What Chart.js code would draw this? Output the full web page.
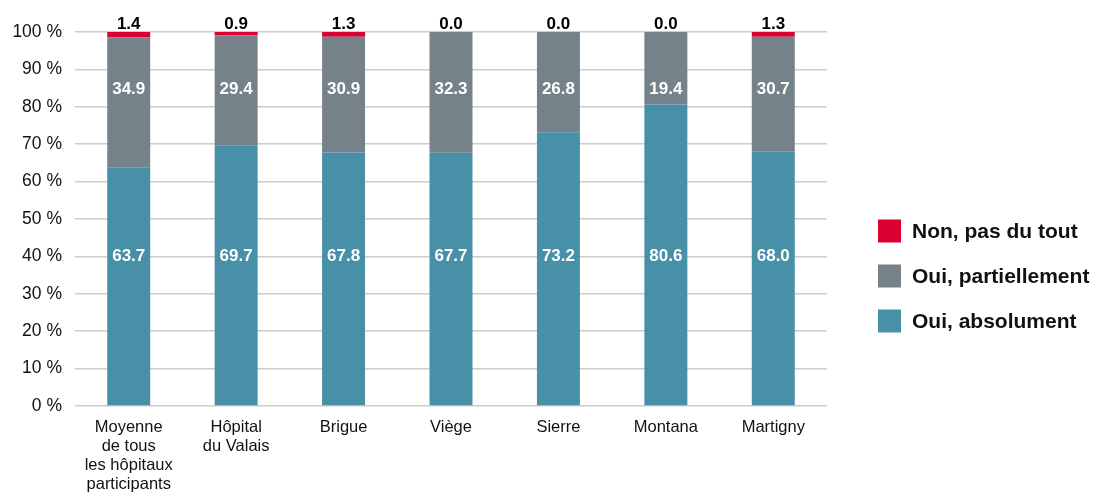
<!DOCTYPE html>
<html><head><meta charset="utf-8">
<script src="https://cdn.jsdelivr.net/npm/chart.js@4/dist/chart.umd.min.js"></script>
<style>html,body{margin:0;padding:0;background:#fff}#wrap{width:1098px;height:492px}</style>
</head><body><div id="wrap"><canvas id="c" width="1098" height="492"></canvas></div>
<script>
const categories = [["Moyenne","de tous","les hôpitaux","participants"],["Hôpital","du Valais"],["Brigue"],["Viège"],["Sierre"],["Montana"],["Martigny"]];
const ouiAbsolument = [63.7, 69.7, 67.8, 67.7, 73.2, 80.6, 68.0];
const ouiPartiellement = [34.9, 29.4, 30.9, 32.3, 26.8, 19.4, 30.7];
const nonPasDuTout = [1.4, 0.9, 1.3, 0.0, 0.0, 0.0, 1.3];
const seriesNames = ["Oui, absolument","Oui, partiellement","Non, pas du tout"];
const yTicks = [0,10,20,30,40,50,60,70,80,90,100];

const FONT = "'Liberation Sans', Arial, sans-serif";
const colors = ["#488fa8","#76828a","#dc0030"];

const labelPlugin = {
  id:'labels',
  afterDatasetsDraw(chart){
    const ctx = chart.ctx, y = chart.scales.y;
    ctx.save();
    ctx.font = "bold 17px " + FONT;
    ctx.textAlign = 'center';
    chart.data.datasets.forEach((ds, di) => {
      const meta = chart.getDatasetMeta(di);
      meta.data.forEach((bar, i) => {
        const v = ds.data[i].toFixed(1);
        if (di === 2) {
          ctx.fillStyle = '#000'; ctx.textBaseline = 'alphabetic';
          ctx.fillText(v, bar.x, y.getPixelForValue(100) - 3);
        } else {
          ctx.fillStyle = '#fff'; ctx.textBaseline = 'middle';
          const pos = di === 0 ? 40 : 84.8;
          ctx.fillText(v, bar.x, y.getPixelForValue(pos));
        }
      });
    });
    // legend
    const items = [2,1,0];
    ctx.font = "bold 21px " + FONT;
    ctx.textAlign = 'left'; ctx.textBaseline = 'middle';
    items.forEach((di, k) => {
      const cy = 231 + k*45;
      ctx.fillStyle = colors[di];
      ctx.fillRect(878, cy - 11.5, 23, 23);
      ctx.fillStyle = '#111';
      ctx.fillText(seriesNames[di], 912, cy + 1);
    });
    ctx.restore();
  }
};

new Chart(document.getElementById('c'), {
  type:'bar',
  data:{
    labels: categories,
    datasets:[
      {label:seriesNames[0], data:ouiAbsolument, backgroundColor:colors[0]},
      {label:seriesNames[1], data:ouiPartiellement, backgroundColor:colors[1]},
      {label:seriesNames[2], data:nonPasDuTout, backgroundColor:colors[2]}
    ]
  },
  options:{
    responsive:false, animation:false, devicePixelRatio:1,
    layout:{padding:{left:0, right:271, top:32, bottom:0}},
    plugins:{legend:{display:false}, tooltip:{enabled:false}},
    datasets:{bar:{barPercentage:0.4, categoryPercentage:1.0, borderWidth:0}},
    scales:{
      x:{stacked:true,
        grid:{display:false, drawTicks:false},
        border:{display:false},
        ticks:{color:'#111', font:{family:FONT, size:16.5, lineHeight:1.15}, padding:12, maxRotation:0, autoSkip:false},
        afterFit(s){ s.height = 86; }
      },
      y:{stacked:true, min:0, max:100,
        afterBuildTicks(s){ s.ticks = yTicks.map(v=>({value:v})); },
        grid:{color:'#cccccc', lineWidth:1.5, drawTicks:false},
        border:{display:false},
        ticks:{color:'#111', font:{family:FONT, size:17.5}, padding:13, callback:v=>v+' %'},
        afterFit(s){ s.width = 75; }
      }
    }
  },
  plugins:[labelPlugin]
});
</script></body></html>
